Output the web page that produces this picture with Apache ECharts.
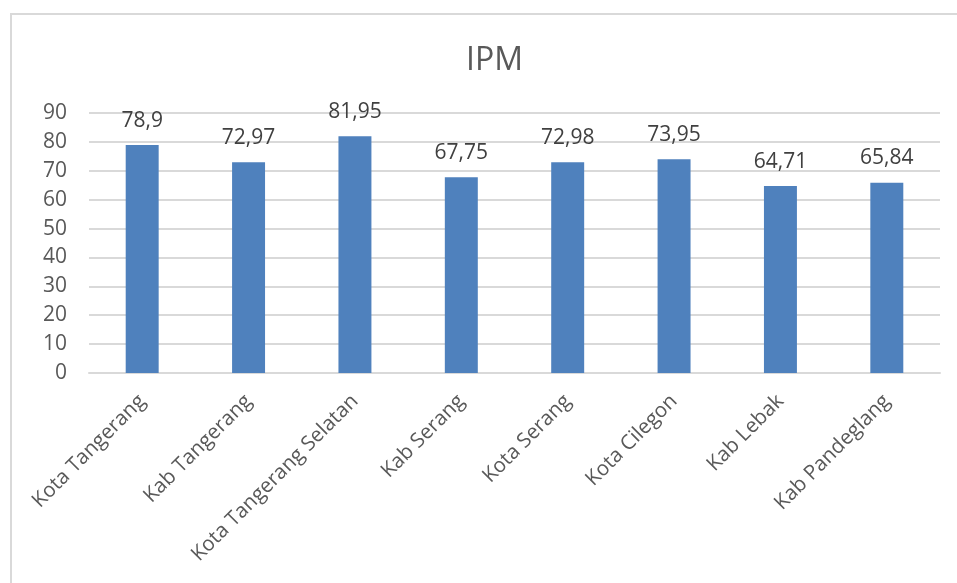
<!DOCTYPE html>
<html>
<head>
<meta charset="utf-8">
<script src="https://cdn.jsdelivr.net/npm/echarts@6/dist/echarts.min.js"></script>
<style>
html,body{margin:0;padding:0;background:#fff;}
#frame{position:absolute;left:10px;top:13px;width:960px;height:600px;border:2px solid #d9d9d9;box-sizing:border-box;}
#c{position:absolute;left:0;top:0;width:957px;height:583px;}
</style>
</head>
<body>
<div id="frame"></div>
<div id="c"></div>
<script>
const categories = ["Kota Tangerang","Kab Tangerang","Kota Tangerang Selatan","Kab Serang","Kota Serang","Kota Cilegon","Kab Lebak","Kab Pandeglang"];
const ipmValues = [78.9, 72.97, 81.95, 67.75, 72.98, 73.95, 64.71, 65.84];
const yTicks = {min: 0, max: 90, interval: 10};

const chart = echarts.init(document.getElementById('c'));
const font = '"Open Sans", "Noto Sans", sans-serif';
chart.setOption({
  backgroundColor: 'transparent',
  animation: false,
  title: {
    text: 'IPM', left: 461, top: 40,
    textStyle: {fontFamily: font, fontSize: 32, fontWeight: 'normal', color: '#595959'}
  },
  grid: {left: 89, right: 17, top: 113, bottom: 210},
  xAxis: {
    type: 'category', data: categories,
    axisLine: {lineStyle: {color: '#d9d9d9', width: 2}},
    axisTick: {show: false},
    axisLabel: {rotate: 45, interval: 0, margin: 25, fontFamily: font, fontSize: 20.5, color: '#595959'}
  },
  yAxis: {
    type: 'value', min: yTicks.min, max: yTicks.max, interval: yTicks.interval,
    axisLine: {show: false}, axisTick: {show: false},
    splitLine: {lineStyle: {color: '#d9d9d9', width: 2}},
    axisLabel: {margin: 22, fontFamily: font, fontSize: 21, color: '#595959'}
  },
  series: [{
    type: 'bar', data: ipmValues, barWidth: '31%',
    itemStyle: {color: '#4f81bd'},
    label: {
      show: true, position: 'top', distance: 14,
      fontFamily: font, fontSize: 21, color: '#404040',
      formatter: p => String(p.value).replace('.', ',')
    }
  }]
});
</script>
</body>
</html>
